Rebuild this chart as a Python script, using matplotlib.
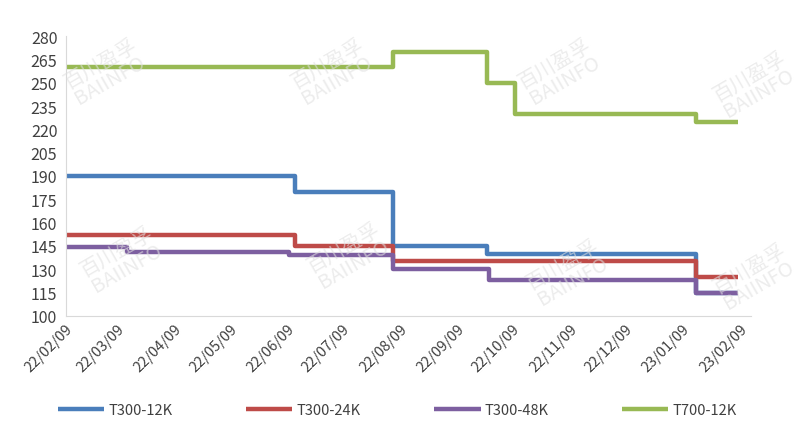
import matplotlib
matplotlib.use("Agg")
import matplotlib.pyplot as plt
import matplotlib.dates as mdates
import pandas as pd

plt.rcParams['font.family'] = ['Noto Sans CJK SC', 'DejaVu Sans']

# dates where the price changes (steps), last date = end of series
dates_t300_12k = ["2022-02-09", "2022-06-13", "2022-08-05", "2022-09-25", "2023-01-16", "2023-02-08"]
vals_t300_12k = [190, 180, 145, 140, 115, 115]

dates_t300_24k = ["2022-02-09", "2022-06-13", "2022-08-05", "2023-01-16", "2023-02-08"]
vals_t300_24k = [152, 145, 135, 125, 125]

dates_t300_48k = ["2022-02-09", "2022-03-14", "2022-06-10", "2022-08-05", "2022-09-26", "2023-01-16", "2023-02-08"]
vals_t300_48k = [144, 141, 139, 130, 123, 115, 115]

dates_t700_12k = ["2022-02-09", "2022-08-05", "2022-09-25", "2022-10-10", "2023-01-16", "2023-02-08"]
vals_t700_12k = [260, 270, 250, 230, 225, 225]

tick_dates = ["2022-02-09", "2022-03-09", "2022-04-09", "2022-05-09", "2022-06-09",
              "2022-07-09", "2022-08-09", "2022-09-09", "2022-10-09", "2022-11-09",
              "2022-12-09", "2023-01-09", "2023-02-09"]

series = [
    ("T300-12K", dates_t300_12k, vals_t300_12k, "#4a7ebb"),
    ("T300-24K", dates_t300_24k, vals_t300_24k, "#be4b48"),
    ("T300-48K", dates_t300_48k, vals_t300_48k, "#7d5fa0"),
    ("T700-12K", dates_t700_12k, vals_t700_12k, "#98b954"),
]

fig = plt.figure(figsize=(8.11, 4.27), dpi=100)
ax = fig.add_axes([0.081, 0.258, 0.845, 0.655])

# faint watermark
wm_pos = [(0.13, 0.83), (0.41, 0.83), (0.69, 0.83), (0.93, 0.80),
          (0.15, 0.39), (0.43, 0.40), (0.70, 0.36), (0.93, 0.35)]
for x, y in wm_pos:
    fig.text(x, y, "百川盈孚\nBAIINFO", fontsize=14.5, color="#e0e0e0", alpha=0.6,
             rotation=30, ha="center", va="center", linespacing=0.9, zorder=0)

for name, d, v, c in series:
    ax.plot(pd.to_datetime(d), v, drawstyle="steps-post", color=c, lw=3.2,
            label=name, solid_joinstyle="round", solid_capstyle="butt")

ax.set_ylim(100, 280)
ax.set_yticks(range(100, 281, 15))
ax.set_xlim(pd.Timestamp("2022-02-09"), pd.Timestamp("2023-02-15"))
ax.set_xticks(pd.to_datetime(tick_dates))
ax.xaxis.set_major_formatter(mdates.DateFormatter("%y/%m/%d"))
plt.setp(ax.get_xticklabels(), rotation=45, ha="right", rotation_mode="anchor")

for s in ["top", "right"]:
    ax.spines[s].set_visible(False)
for s in ["left", "bottom"]:
    ax.spines[s].set_color("#d9d9d9")
ax.tick_params(length=0, colors="#404040")
ax.tick_params(axis="y", labelsize=11.5, pad=6)
ax.tick_params(axis="x", labelsize=10.5, pad=4)

fig.legend(loc="lower center", ncol=4, frameon=False, fontsize=10.5,
           bbox_to_anchor=(0.49, -0.01), handlelength=3.2, columnspacing=5.0,
           handletextpad=0.3, labelcolor="#404040")

plt.savefig("out.png", dpi=100)
